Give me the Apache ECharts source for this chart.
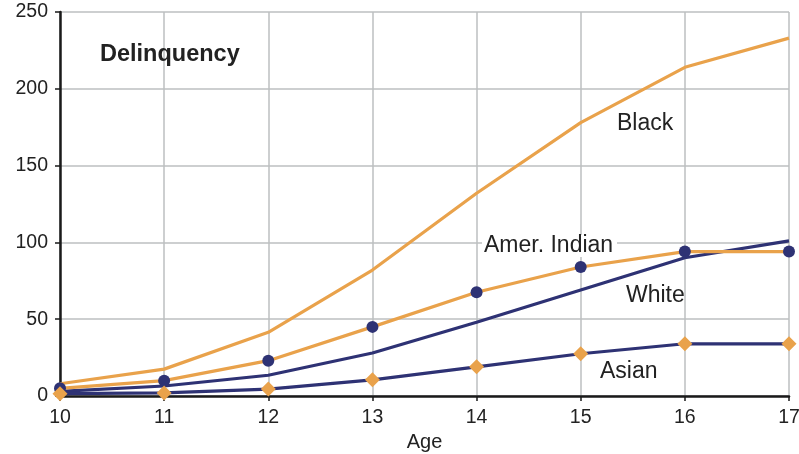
<!DOCTYPE html>
<html><head><meta charset="utf-8">
<script src="https://cdn.jsdelivr.net/npm/echarts@6/dist/echarts.min.js"></script>
<style>html,body{margin:0;padding:0;background:#fff}#c{width:799px;height:454px}</style>
</head><body><div id="c"></div>
<script>
const ages = [10, 11, 12, 13, 14, 15, 16, 17];
const black = [8, 17.5, 41.5, 82, 132, 178, 214, 233];
const amerIndian = [5, 10, 23, 45, 67.5, 84, 94, 94];
const white = [3, 6.5, 13.5, 28, 48, 69, 90, 101];
const asian = [1.5, 2, 4.5, 10.5, 19, 27.5, 34, 34];
const yTicks = [0, 50, 100, 150, 200, 250];

const ORANGE = '#E9A24B';
const NAVY = '#2E3274';
const pairs = arr => ages.map((a, i) => [a, arr[i]]);
const FONT = '"Liberation Sans", Arial, Helvetica, sans-serif';

const chart = echarts.init(document.getElementById('c'));
chart.setOption({
  animation: false,
  grid: { left: 60, right: 10, top: 12, bottom: 58, containLabel: false, outerBoundsMode: 'none' },
  xAxis: {
    type: 'value', min: 10, max: 17, interval: 1,
    name: 'Age', nameLocation: 'middle', nameGap: 35,
    nameTextStyle: { fontFamily: FONT, fontSize: 20, color: '#222' },
    axisLine: { show: true, lineStyle: { color: '#1a1a1a', width: 2.5 } },
    axisTick: { show: true, length: 5, lineStyle: { color: '#1a1a1a', width: 1.5 } },
    axisLabel: { fontFamily: FONT, fontSize: 19.5, color: '#222', margin: 12 },
    splitLine: { show: true, lineStyle: { color: '#BDBFC1', width: 1.5 } }
  },
  yAxis: {
    type: 'value', min: 0, max: 250, interval: 50,
    axisLine: { show: true, lineStyle: { color: '#1a1a1a', width: 2.5 } },
    axisTick: { show: true, length: 5, lineStyle: { color: '#1a1a1a', width: 1.5 } },
    axisLabel: { fontFamily: FONT, fontSize: 19.5, color: '#222', margin: 12, padding: [4, 0, 0, 0],
      formatter: v => yTicks.includes(v) ? String(v) : '' },
    splitLine: { show: true, lineStyle: { color: '#BDBFC1', width: 1.5 } }
  },
  series: [
    { name: 'Black', type: 'line', data: pairs(black), symbol: 'none',
      lineStyle: { color: ORANGE, width: 3.2 } },
    { name: 'White', type: 'line', data: pairs(white), symbol: 'none',
      lineStyle: { color: NAVY, width: 3.2 } },
    { name: 'Amer. Indian', type: 'line', data: pairs(amerIndian), symbol: 'circle', symbolSize: 12,
      showAllSymbol: true,
      lineStyle: { color: ORANGE, width: 3.2 }, itemStyle: { color: NAVY, borderWidth: 0 } },
    { name: 'Asian', type: 'line', data: pairs(asian), symbol: 'diamond', symbolSize: 15,
      showAllSymbol: true,
      lineStyle: { color: NAVY, width: 3.2 }, itemStyle: { color: ORANGE, borderWidth: 0 } }
  ],
  graphic: [
    { type: 'text', z: 20, x: 100, y: 55, style: { text: 'Delinquency', font: 'bold 23.5px ' + FONT, fill: '#222', verticalAlign: 'middle' } },
    { type: 'text', z: 20, x: 617, y: 124, style: { text: 'Black', font: '23px ' + FONT, fill: '#222', verticalAlign: 'middle' } },
    { type: 'rect', z: 19, shape: { x: 482, y: 235, width: 135, height: 22 }, style: { fill: '#fff' } },
    { type: 'text', z: 20, x: 484, y: 246, style: { text: 'Amer. Indian', font: '23px ' + FONT, fill: '#222', verticalAlign: 'middle' } },
    { type: 'text', z: 20, x: 626, y: 296, style: { text: 'White', font: '23px ' + FONT, fill: '#222', verticalAlign: 'middle' } },
    { type: 'text', z: 20, x: 600, y: 372, style: { text: 'Asian', font: '23px ' + FONT, fill: '#222', verticalAlign: 'middle' } }
  ]
});
</script></body></html>
